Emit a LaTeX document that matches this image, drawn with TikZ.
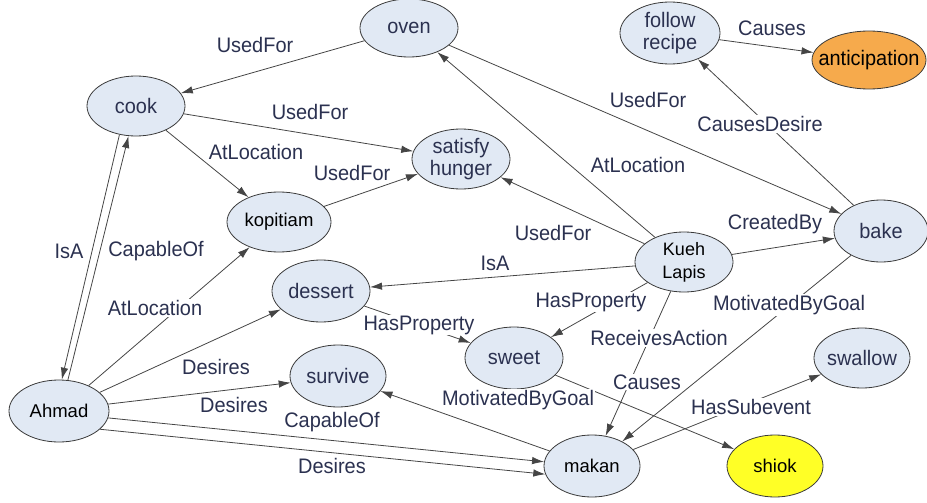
\documentclass[tikz,border=0pt]{standalone}
\usepackage{fontspec}
\setmainfont{Liberation Sans}
\newfontfamily\condf[FakeStretch=0.95]{Liberation Sans}
\usetikzlibrary{shapes.geometric,arrows.meta}
\definecolor{nodefill}{HTML}{E1E9F4}
\definecolor{nodeline}{HTML}{3A3A3A}
\definecolor{edgeline}{HTML}{454545}
\definecolor{lbltext}{HTML}{2B3150}
\definecolor{antfill}{HTML}{F6AA4C}
\definecolor{shiokfill}{HTML}{FFFF26}
\begin{document}
\begin{tikzpicture}[x=1pt,y=-1pt,
  ell/.style={ellipse,draw=nodeline,fill=nodefill,line width=0.8pt,inner sep=0pt},
  ctext/.style={font=\condf\fontsize{21}{22}\selectfont,text=lbltext,inner sep=0pt,align=center},
  rtext/.style={font=\fontsize{18.5}{23}\selectfont,text=black,inner sep=0pt,align=center},
  ktext/.style={font=\fontsize{18}{23}\selectfont,text=black,inner sep=0pt,align=center},
  lbl/.style={font=\condf\fontsize{21}{22}\selectfont,text=lbltext,fill=white,inner sep=1pt},
  rel/.style={draw=edgeline,line width=0.8pt,-{Latex[length=12pt,width=7.5pt]}}
]
\useasboundingbox (0,0) rectangle (927,503);

% nodes
\node[ell,minimum width=98pt,minimum height=58pt] (oven) at (409,28) {};
\node[ell,minimum width=98pt,minimum height=60pt] (cook) at (136,106) {};
\node[ell,minimum width=98pt,minimum height=60pt] (satisfy) at (461,159) {};
\node[ell,minimum width=104pt,minimum height=60pt] (kopitiam) at (279,222) {};
\node[ell,minimum width=100pt,minimum height=62pt] (follow) at (670,33) {};
\node[ell,fill=antfill,minimum width=114pt,minimum height=58pt] (antic) at (869,60) {};
\node[ell,minimum width=94pt,minimum height=62pt] (bake) at (881,231) {};
\node[ell,minimum width=98pt,minimum height=60pt] (kueh) at (684,262) {};
\node[ell,minimum width=98pt,minimum height=62pt] (dessert) at (321,291) {};
\node[ell,minimum width=96pt,minimum height=62pt] (survive) at (338,376) {};
\node[ell,minimum width=100pt,minimum height=62pt] (ahmad) at (59,411) {};
\node[ell,minimum width=98pt,minimum height=62pt] (sweet) at (514,358) {};
\node[ell,minimum width=96pt,minimum height=60pt] (swallow) at (862,358) {};
\node[ell,minimum width=96pt,minimum height=62pt] (makan) at (592,466) {};
\node[ell,fill=shiokfill,minimum width=96pt,minimum height=62pt] (shiok) at (775,466) {};

% node texts
\node[ctext] (oven-t) at (oven) {oven};
\node[ctext] (cook-t) at (cook) {cook};
\node[ctext] (satisfy-t) at (satisfy) {satisfy\\hunger};
\node[rtext] (kopitiam-t) at (kopitiam) {kopitiam};
\node[ctext] (follow-t) at (follow) {follow\\recipe};
\node[ctext,text=black] (antic-t) at (antic) {anticipation};
\node[ctext] (bake-t) at (bake) {bake};
\node[ktext] (kueh-t) at (kueh) {Kueh\\Lapis};
\node[ctext] (dessert-t) at (dessert) {dessert};
\node[ctext] (survive-t) at (survive) {survive};
\node[rtext] (ahmad-t) at (ahmad) {Ahmad};
\node[ctext] (sweet-t) at (sweet) {sweet};
\node[ctext] (swallow-t) at (swallow) {swallow};
\node[rtext] (makan-t) at (makan) {makan};
\node[rtext] (shiok-t) at (shiok) {shiok};

% connectors
\draw[rel] (oven) -- (cook);
\draw[rel] (cook) -- (satisfy);
\draw[rel] (cook) -- (kopitiam);
\draw[rel] (kopitiam) -- (satisfy);
\draw[rel] (cook.240) -- (ahmad.85);
\draw[rel] (ahmad.74) -- (cook.256);
\draw[rel] (ahmad) -- (kopitiam);
\draw[rel] (ahmad) -- (dessert);
\draw[rel] (ahmad.8) -- (survive.188);
\draw[rel] (ahmad.-8) -- (makan.175);
\draw[rel] (ahmad.-24) -- (makan.190);
\draw[rel] (makan) -- (survive);
\draw[rel] (kueh) -- (oven);
\draw[rel] (kueh) -- (satisfy);
\draw[rel] (kueh) -- (dessert);
\draw[rel] (kueh) -- (sweet);
\draw[rel] (kueh) -- (makan);
\draw[rel] (kueh) -- (bake);
\draw[rel] (oven) -- (bake);
\draw[rel] (bake) -- (follow);
\draw[rel] (follow) -- (antic);
\draw[rel] (bake) -- (makan);
\draw[rel] (dessert) -- (sweet);
\draw[rel] (sweet) -- (shiok);
\draw[rel] (makan) -- (swallow);

% connector labels
\node[lbl] (l1) at (255,45) {UsedFor};
\node[lbl] (l2) at (310,112) {UsedFor};
\node[lbl] (l3) at (256,152) {AtLocation};
\node[lbl] (l4) at (352,173) {UsedFor};
\node[lbl] (l5) at (69,251) {IsA};
\node[lbl] (l6) at (156,251) {CapableOf};
\node[lbl] (l7) at (155,308) {AtLocation};
\node[lbl] (l8) at (216,367) {Desires};
\node[lbl] (l9) at (234,405) {Desires};
\node[lbl] (l10) at (332,422) {CapableOf};
\node[lbl] (l11) at (332,466) {Desires};
\node[lbl] (l12) at (518,400) {MotivatedByGoal};
\node[lbl] (l13) at (419,325) {HasProperty};
\node[lbl] (l14) at (495,263) {IsA};
\node[lbl] (l15) at (591,302) {HasProperty};
\node[lbl] (l16) at (659,338) {ReceivesAction};
\node[lbl] (l17) at (647,382) {Causes};
\node[lbl] (l18) at (789,305) {MotivatedByGoal};
\node[lbl] (l19) at (751,407) {HasSubevent};
\node[lbl] (l20) at (553,233) {UsedFor};
\node[lbl] (l21) at (638,165) {AtLocation};
\node[lbl] (l22) at (648,100) {UsedFor};
\node[lbl] (l23) at (760,124) {CausesDesire};
\node[lbl] (l24) at (775,224) {CreatedBy};
\node[lbl] (l25) at (772,28) {Causes};
\end{tikzpicture}
\end{document}
